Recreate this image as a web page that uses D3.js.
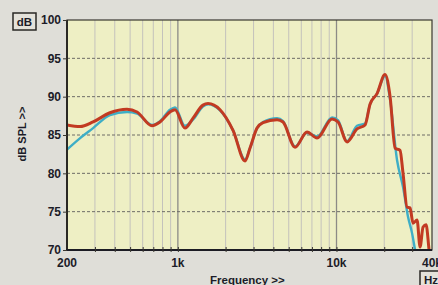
<!DOCTYPE html>
<html>
<head>
<meta charset="utf-8">
<script src="https://cdn.jsdelivr.net/npm/d3@7"></script>
<style>
  body { margin: 0; background: #dfded8; }
  svg { display: block; }
  text { font-family: "Liberation Sans", Arial, sans-serif; font-weight: bold; fill: #1c1c28; }
</style>
</head>
<body>
<svg id="chart" width="438" height="285"></svg>
<script>
// values
const yTicks = [70, 75, 80, 85, 90, 95, 100];
const xLabels = [[200, '200'], [1000, '1k'], [10000, '10k'], [40000, '40k']];
const minorFreqs = [300, 400, 500, 600, 700, 800, 900, 2000, 3000, 4000, 5000, 6000, 7000, 8000, 9000, 20000, 30000];
const decadeFreqs = [1000, 10000];

const redFreq = [200, 242, 292, 373, 478, 553, 687, 772, 892, 959, 1109, 1246, 1440, 1549, 1844, 2227, 2652, 2850, 3156, 3443,
  4220, 4602, 5478, 6520, 7541, 9376, 10230, 11660, 13470, 15140, 16270, 18010, 20230, 21770, 23400, 25150, 26270, 27850,
  29080, 30380, 32200, 33640, 35140, 36700, 38340, 40000];
const redDb = [86.3, 86.1, 86.7, 87.9, 88.35, 88.0, 86.2, 86.7, 88.0, 88.3, 85.9, 87.2, 88.9, 89.1, 88.3, 85.6, 81.6, 83.3, 85.9, 86.6,
  87.0, 86.7, 83.4, 85.4, 84.6, 87.1, 86.7, 84.1, 85.8, 86.3, 89.0, 90.4, 92.9, 90.0, 83.3, 83.0, 80.0, 75.6,
  75.5, 73.5, 73.9, 70.4, 73.0, 73.3, 70.0, 67.0];

const blueFreq = [200, 242, 292, 373, 478, 553, 687, 772, 892, 959, 1109, 1246, 1440, 1549, 1844, 2227, 2652, 2850, 3156, 3443,
  4220, 4602, 5478, 6520, 7541, 9376, 10230, 11660, 13470, 15140, 16270, 18010, 20230, 21770, 24090, 26270, 28260, 29940, 31280, 32200];
const blueDb = [83.1, 84.6, 85.9, 87.6, 88.0, 87.8, 86.3, 86.8, 88.3, 88.6, 86.2, 87.0, 88.7, 89.0, 88.2, 85.6, 81.8, 83.3, 85.9, 86.7,
  87.2, 86.8, 83.5, 85.3, 84.8, 87.3, 86.9, 84.2, 86.2, 86.5, 89.0, 90.4, 92.7, 89.6, 81.7, 78.2, 74.3, 72.2, 70.0, 68.5];

const svg = d3.select('#chart');
const plotL = 67, plotR = 432, plotT = 20, plotB = 250;

const x = d3.scaleLog().domain([200, 40000]).range([plotL, plotR]);
const y = d3.scaleLinear().domain([70, 100]).range([plotB, plotT]);

// plot background
svg.append('rect')
  .attr('x', plotL).attr('y', plotT)
  .attr('width', plotR - plotL).attr('height', plotB - plotT)
  .attr('fill', '#eeefc4');

// vertical grid
svg.append('g').selectAll('line')
  .data(minorFreqs)
  .enter().append('line')
  .attr('x1', d => x(d)).attr('x2', d => x(d))
  .attr('y1', plotT).attr('y2', plotB)
  .attr('stroke', '#c4c2bc')
  .attr('stroke-width', 1);

svg.append('g').selectAll('line')
  .data(decadeFreqs)
  .enter().append('line')
  .attr('x1', d => x(d)).attr('x2', d => x(d))
  .attr('y1', plotT).attr('y2', plotB)
  .attr('stroke', '#8c8a86')
  .attr('stroke-width', 1.3);

// horizontal grid
svg.append('g').selectAll('line')
  .data(yTicks.slice(1, -1))
  .enter().append('line')
  .attr('x1', plotL).attr('x2', plotR)
  .attr('y1', d => y(d)).attr('y2', d => y(d))
  .attr('stroke', '#6e6c66')
  .attr('stroke-width', 1)
  .attr('stroke-dasharray', '3,2');

// curves
const line = d3.line()
  .x(d => x(d[0]))
  .y(d => y(d[1]))
  .curve(d3.curveMonotoneX);

svg.append('clipPath').attr('id', 'clip')
  .append('rect')
  .attr('x', plotL).attr('y', plotT)
  .attr('width', plotR - plotL).attr('height', plotB - plotT);

const curves = svg.append('g').attr('clip-path', 'url(#clip)');

curves.append('path')
  .datum(d3.zip(blueFreq, blueDb))
  .attr('d', line)
  .attr('fill', 'none')
  .attr('stroke', '#3eaec6')
  .attr('stroke-width', 2.4);

curves.append('path')
  .datum(d3.zip(redFreq, redDb))
  .attr('d', line)
  .attr('fill', 'none')
  .attr('stroke', '#c23a22')
  .attr('stroke-width', 3);

// frame
svg.append('rect')
  .attr('x', plotL).attr('y', plotT)
  .attr('width', plotR - plotL).attr('height', plotB - plotT)
  .attr('fill', 'none')
  .attr('stroke', '#3a3830')
  .attr('stroke-width', 1.2);

svg.append('line')
  .attr('x1', plotL).attr('x2', plotL)
  .attr('y1', plotT).attr('y2', plotB + 1)
  .attr('stroke', '#2a2824').attr('stroke-width', 2);

svg.append('line')
  .attr('x1', plotL - 1).attr('x2', plotR)
  .attr('y1', plotB).attr('y2', plotB)
  .attr('stroke', '#1c1c24').attr('stroke-width', 2);

// x axis
const xAxis = svg.append('g')
  .attr('transform', `translate(0,${plotB + 2})`)
  .call(d3.axisBottom(x)
    .tickValues(minorFreqs.concat(decadeFreqs))
    .tickSize(-5)
    .tickFormat(''));
xAxis.select('.domain').remove();
xAxis.selectAll('line').attr('stroke', '#3a3830');

svg.append('g').selectAll('text')
  .data(xLabels)
  .enter().append('text')
  .attr('x', d => x(d[0]))
  .attr('y', 267)
  .attr('text-anchor', 'middle')
  .style('font-size', '12px')
  .text(d => d[1]);

// y axis
const yAxis = svg.append('g')
  .attr('transform', `translate(${plotL},0)`)
  .call(d3.axisLeft(y).tickValues(yTicks).tickSize(4).tickPadding(2));
yAxis.select('.domain').remove();
yAxis.selectAll('line').attr('stroke', '#3a3830');
yAxis.selectAll('text')
  .style('font-size', '12px')
  .style('font-family', '"Liberation Sans", Arial, sans-serif')
  .style('font-weight', 'bold')
  .attr('fill', '#1c1c28');

// titles
svg.append('text')
  .attr('x', 210).attr('y', 284)
  .style('font-size', '11.5px')
  .text('Frequency >>');

svg.append('text')
  .attr('transform', 'translate(26,134) rotate(-90)')
  .attr('text-anchor', 'middle')
  .style('font-size', '11px')
  .text('dB SPL >>');

// unit boxes
svg.append('rect')
  .attr('x', 13).attr('y', 13).attr('width', 23).attr('height', 17)
  .attr('fill', '#e4e2da').attr('stroke', '#2a2824').attr('stroke-width', 1.5);
svg.append('text')
  .attr('x', 24.5).attr('y', 26)
  .attr('text-anchor', 'middle')
  .style('font-size', '11.5px')
  .text('dB');

svg.append('rect')
  .attr('x', 420).attr('y', 271).attr('width', 24).attr('height', 17)
  .attr('fill', '#e4e2da').attr('stroke', '#2a2824').attr('stroke-width', 1.5);
svg.append('text')
  .attr('x', 424).attr('y', 284)
  .style('font-size', '11.5px')
  .text('Hz');
</script>
</body>
</html>
